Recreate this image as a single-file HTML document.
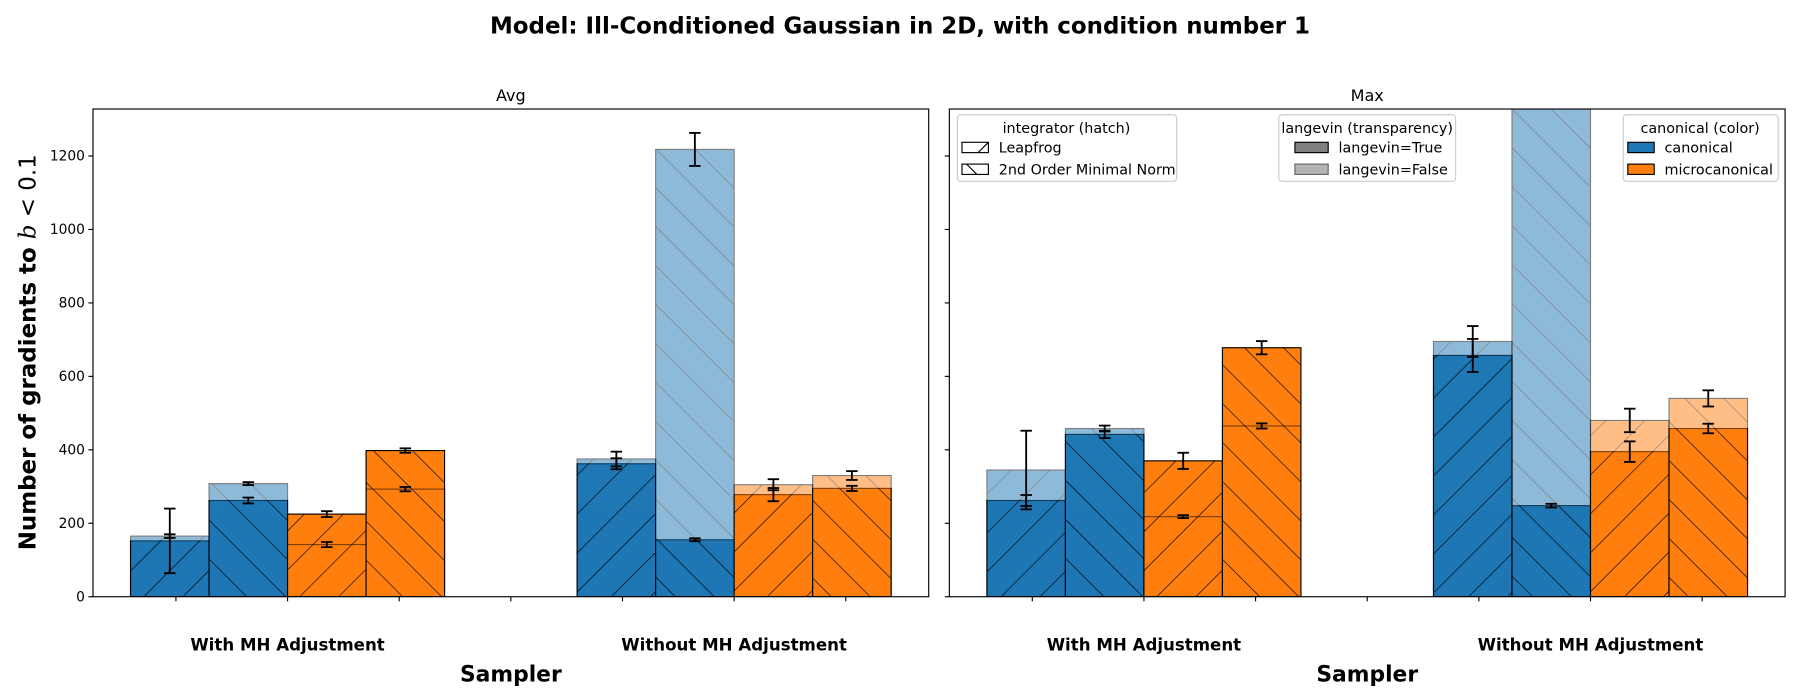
<!DOCTYPE html>
<html><head><meta charset="utf-8"><style>
body{margin:0;background:#fff}
svg{display:block;font-family:"DejaVu Sans","Liberation Sans",sans-serif}
</style></head><body>
<svg id="fig" width="1800" height="700" viewBox="0 0 1568 610" preserveAspectRatio="none" xmlns="http://www.w3.org/2000/svg">
<defs>
<pattern id="hf" patternUnits="userSpaceOnUse" width="24" height="24" patternTransform="rotate(45)"><line x1="0" y1="-2" x2="0" y2="26" stroke="#000" stroke-width="1.1"/></pattern>
<pattern id="hb" patternUnits="userSpaceOnUse" width="24" height="24" patternTransform="rotate(-45)"><line x1="0" y1="-2" x2="0" y2="26" stroke="#000" stroke-width="1.1"/></pattern>
<clipPath id="clipL"><rect x="81" y="95" width="728" height="425"/></clipPath>
<clipPath id="clipR"><rect x="827" y="95" width="728" height="425"/></clipPath>
</defs>
<text x="784" y="29" text-anchor="middle" font-size="20" font-weight="bold">Model: Ill-Conditioned Gaussian in 2D, with condition number 1</text>
<text transform="translate(31,307) rotate(-90)" text-anchor="middle" font-size="20" font-weight="bold">Number of gradients to <tspan font-style="italic" font-weight="normal" font-family="DejaVu Serif,serif">b</tspan><tspan font-weight="normal"> &lt; 0.1</tspan></text>
<g id="plots"></g>
<g>
<rect x="834" y="100" width="191" height="58" rx="3" fill="#fff" stroke="#ccc"/>
<text x="929" y="116" text-anchor="middle" font-size="12.5">integrator (hatch)</text>
<rect x="838" y="124" width="23" height="9" fill="#fff" stroke="#000"/><line x1="852" y1="133" x2="861" y2="124" stroke="#000"/>
<text x="870" y="133" font-size="12.5">Leapfrog</text>
<rect x="838" y="143" width="23" height="9" fill="#fff" stroke="#000"/><line x1="842" y1="143" x2="851" y2="152" stroke="#000"/>
<text x="870" y="152" font-size="12.5">2nd Order Minimal Norm</text>
</g>
<g>
<rect x="1114" y="100" width="154" height="58" rx="3" fill="#fff" stroke="#ccc"/>
<text x="1191" y="116" text-anchor="middle" font-size="12.5">langevin (transparency)</text>
<rect x="1128" y="124" width="29" height="9" fill="#808080" stroke="#000"/>
<text x="1166" y="133" font-size="12.5">langevin=True</text>
<rect x="1128" y="143" width="29" height="9" fill="#b3b3b3" stroke="#666"/>
<text x="1166" y="152" font-size="12.5">langevin=False</text>
</g>
<g>
<rect x="1414" y="100" width="135" height="58" rx="3" fill="#fff" stroke="#ccc"/>
<text x="1481" y="116" text-anchor="middle" font-size="12.5">canonical (color)</text>
<rect x="1418" y="124" width="23" height="9" fill="#1f77b4" stroke="#000"/>
<text x="1450" y="133" font-size="12.5">canonical</text>
<rect x="1418" y="143" width="23" height="9" fill="#ff7f0e" stroke="#000"/>
<text x="1450" y="152" font-size="12.5">microcanonical</text>
</g>
</svg>
<script>
// data: order per group: [blue Leapfrog, blue MinNorm, orange Leapfrog, orange MinNorm]
const groups = ["With MH Adjustment", "Without MH Adjustment"];
const panels = ["Avg", "Max"];
const avgTrue  = [[152, 262, 225, 398], [362, 155, 278, 295]];
const avgTrueErr = [[88, 8, 8, 6], [15, 4, 18, 7]];
const avgFalse = [[165, 308, 142, 293], [375, 1218, 305, 330]];
const avgFalseErr = [[5, 4, 7, 6], [20, 45, 15, 12]];
const maxTrue  = [[262, 442, 370, 678], [657, 248, 395, 458]];
const maxTrueErr = [[15, 10, 22, 18], [45, 5, 28, 13]];
const maxFalse = [[345, 458, 218, 465], [695, 1900, 480, 540]];
const maxFalseErr = [[107, 8, 4, 7], [42, 5, 32, 22]];
const yTicks = [0, 200, 400, 600, 800, 1000, 1200];
const xTicks = [-0.25, 0, 0.25, 0.5, 0.75, 1, 1.25];

const NS = "http://www.w3.org/2000/svg";
const colors = ["#1f77b4", "#1f77b4", "#ff7f0e", "#ff7f0e"];
const hatches = ["url(#hf)", "url(#hb)", "url(#hf)", "url(#hb)"];
const Y0 = 520, Y1 = 95, YMAX = 1328, XMIN = -0.4357, XMAX = 1.4357, BW = 0.1758;
function mk(tag, attrs, parent) { const e = document.createElementNS(NS, tag); for (const k in attrs) e.setAttribute(k, attrs[k]); parent.appendChild(e); return e; }
const root = document.getElementById("plots");
const panelData = [[avgTrue, avgTrueErr, avgFalse, avgFalseErr], [maxTrue, maxTrueErr, maxFalse, maxFalseErr]];
panelData.forEach((pd, p) => {
  const L = 81 + p * 746, W = 728;
  const xs = v => L + (v - XMIN) / (XMAX - XMIN) * W;
  const ys = v => Y0 - v / YMAX * (Y0 - Y1);
  const g = mk("g", {"clip-path": p ? "url(#clipR)" : "url(#clipL)"}, root);
  
  
  const [tv, te, fv, fe] = pd;
  groups.forEach((gn, gi) => {
    for (let k = 0; k < 4; k++) {
      const x0 = xs(gi + (k - 2) * BW), x1 = xs(gi + (k - 1) * BW);
      [[tv, 1], [fv, 0.5]].forEach(([arr, op]) => {
        const bg = mk("g", {opacity: op}, g);
        
        
        const y = ys(arr[gi][k]), h = Y0 - y;
        mk("rect", {x: x0, y: y, width: x1 - x0, height: h, fill: colors[k]}, bg);
        mk("rect", {x: x0, y: y, width: x1 - x0, height: h, fill: hatches[k], stroke: "#000", "stroke-width": 1}, bg);
      });
    }
  });
  groups.forEach((gn, gi) => {
    for (let k = 0; k < 4; k++) {
      const cx = xs(gi + (k - 1.5) * BW);
      [[tv, te], [fv, fe]].forEach(([arr, err]) => {
        const v = arr[gi][k], e = err[gi][k];
        const eg = mk("g", {stroke: "#000", "stroke-width": 1.6}, g);
        
        
        mk("line", {x1: cx, x2: cx, y1: ys(v - e), y2: ys(v + e)}, eg);
        mk("line", {x1: cx - 5, x2: cx + 5, y1: ys(v - e), y2: ys(v - e)}, eg);
        mk("line", {x1: cx - 5, x2: cx + 5, y1: ys(v + e), y2: ys(v + e)}, eg);
      });
    }
  });
  const ax = mk("rect", {x: L, y: Y1, width: W, height: Y0 - Y1, fill: "none", stroke: "#000", "stroke-width": 1}, root);
  
  
  const t = mk("text", {x: L + W / 2, y: 88, "text-anchor": "middle", "font-size": 14}, root);
  
  
  t.textContent = panels[p];
  yTicks.forEach(v => {
    mk("line", {x1: L - 4, x2: L, y1: ys(v), y2: ys(v), stroke: "#000"}, root);
    if (p === 0) {
      const tl = mk("text", {x: L - 7, y: ys(v) + 4, "text-anchor": "end", "font-size": 12}, root);
      
      
      tl.textContent = v;
    }
  });
  xTicks.forEach(v => mk("line", {x1: xs(v), x2: xs(v), y1: Y0, y2: Y0 + 4, stroke: "#000"}, root));
  groups.forEach((gn, gi) => {
    const gl = mk("text", {x: xs(gi), y: 567, "text-anchor": "middle", "font-size": 14.5, "font-weight": "bold"}, root);
    
    
    gl.textContent = gn;
  });
  const xl = mk("text", {x: L + W / 2, y: 594, "text-anchor": "middle", "font-size": 19, "font-weight": "bold"}, root);
  
  
  xl.textContent = "Sampler";
});
</script>
</body></html>
